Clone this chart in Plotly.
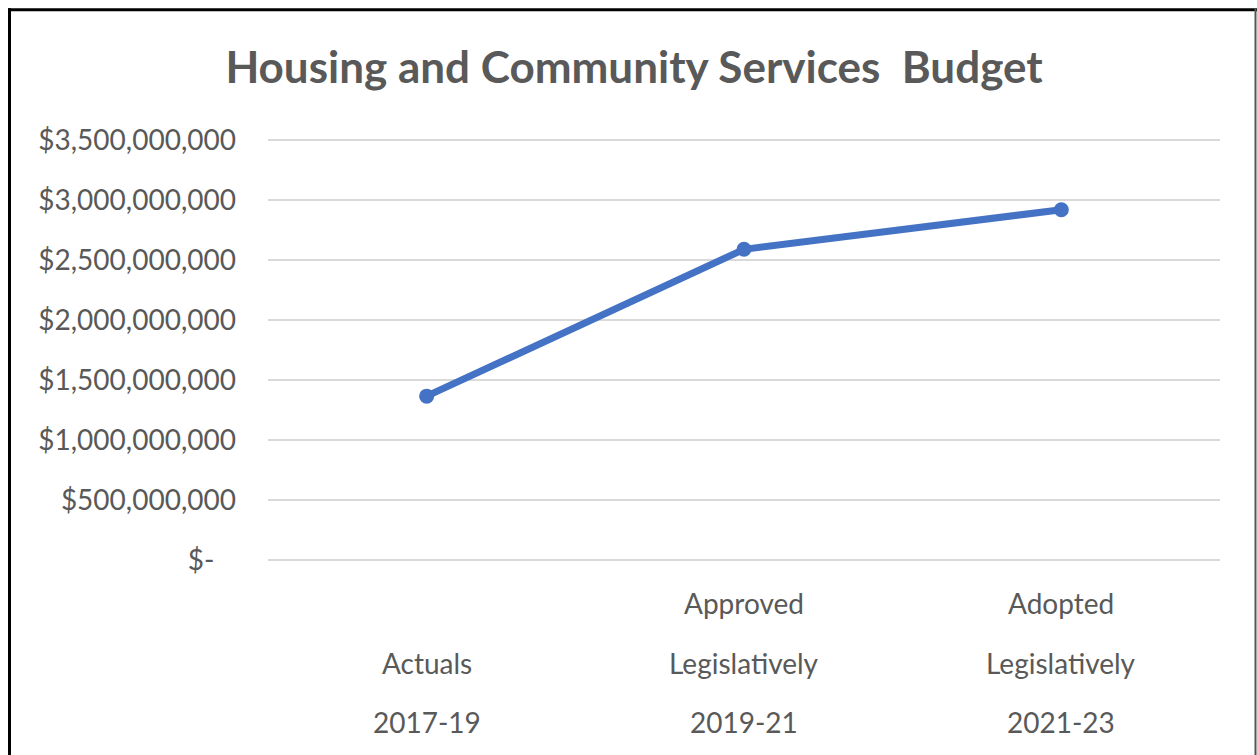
import plotly.graph_objects as go

# Biennium budget totals
label_top = ["", "Approved", "Adopted"]
label_mid = ["Actuals", "Legislatively", "Legislatively"]
label_bottom = ["2017-19", "2019-21", "2021-23"]
categories = ["Actuals 2017-19", "Approved Legislatively 2019-21", "Adopted Legislatively 2021-23"]
budget = [1.365e9, 2.59e9, 2.92e9]

y_ticks = [0, 5e8, 1e9, 1.5e9, 2e9, 2.5e9, 3e9, 3.5e9]
y_tick_text = ["$-\u00a0\u00a0\u00a0", "$500,000,000", "$1,000,000,000", "$1,500,000,000",
               "$2,000,000,000", "$2,500,000,000", "$3,000,000,000", "$3,500,000,000"]
y_min, y_max = -0.01e9, 3.51e9

W, H = 1257, 755
# plot box: 0 at y=560 px, 3.5bn at y=140 px; x from 268 to 1220 px
px_per_unit = (560 - 140) / 3.5e9
T = 140 - (y_max - 3.5e9) * px_per_unit
Bpx = 560 + (0 - y_min) * px_per_unit
L, R, B = 268, 37, H - Bpx
PW, PH = W - L - R, Bpx - T


def px_x(p):
    return (p - L) / PW


def px_y(p):
    return 1 - (p - T) / PH


FONT = "Lato"
GREY = "#595959"

fig = go.Figure()
fig.add_trace(go.Scatter(
    x=categories, y=budget, mode="lines+markers",
    line=dict(color="#4472C4", width=7),
    marker=dict(color="#4472C4", size=15),
    hoverinfo="x+y",
))

# Wrapped category labels, one annotation per line
for cat, lines in zip(categories, zip(label_top, label_mid, label_bottom)):
    for text, ypx in zip(lines, [603, 663, 722]):
        if text:
            fig.add_annotation(x=cat, xref="x", y=px_y(ypx), yref="paper",
                               text=text, showarrow=False,
                               font=dict(family=FONT, size=28, color=GREY),
                               xanchor="center", yanchor="middle")

# Frame around the chart
border = [
    dict(x0=px_x(9.5), x1=px_x(9.5), y0=px_y(8), y1=px_y(760), w=3, c="black"),
    dict(x0=px_x(8), x1=px_x(1260), y0=px_y(9.5), y1=px_y(9.5), w=3, c="black"),
    dict(x0=px_x(1255.5), x1=px_x(1255.5), y0=px_y(8), y1=px_y(760), w=2, c="#555555"),
]
for s in border:
    fig.add_shape(type="line", xref="paper", yref="paper",
                  x0=s["x0"], x1=s["x1"], y0=s["y0"], y1=s["y1"],
                  line=dict(color=s["c"], width=s["w"]))

fig.update_layout(
    width=W, height=H,
    margin=dict(l=L, r=R, t=T, b=B, autoexpand=False),
    paper_bgcolor="white", plot_bgcolor="white",
    showlegend=False,
    title=dict(text="<b>Housing and Community Services\u00a0 Budget</b>",
               x=634 / W, xanchor="center", y=1 - 68 / H, yanchor="middle",
               xref="container", yref="container",
               font=dict(family=FONT, size=44, color=GREY)),
    xaxis=dict(type="category", range=[-0.5, 2.5], showticklabels=False,
               showgrid=False, zeroline=False, showline=False),
    yaxis=dict(range=[y_min, y_max], tickvals=y_ticks, ticktext=y_tick_text,
               showgrid=True, gridcolor="#D9D9D9", gridwidth=1.5,
               zeroline=False, showline=False, ticks="",
               ticklabelstandoff=31,
               tickfont=dict(family=FONT, size=28, color=GREY)),
)

fig.write_html("out.html")
